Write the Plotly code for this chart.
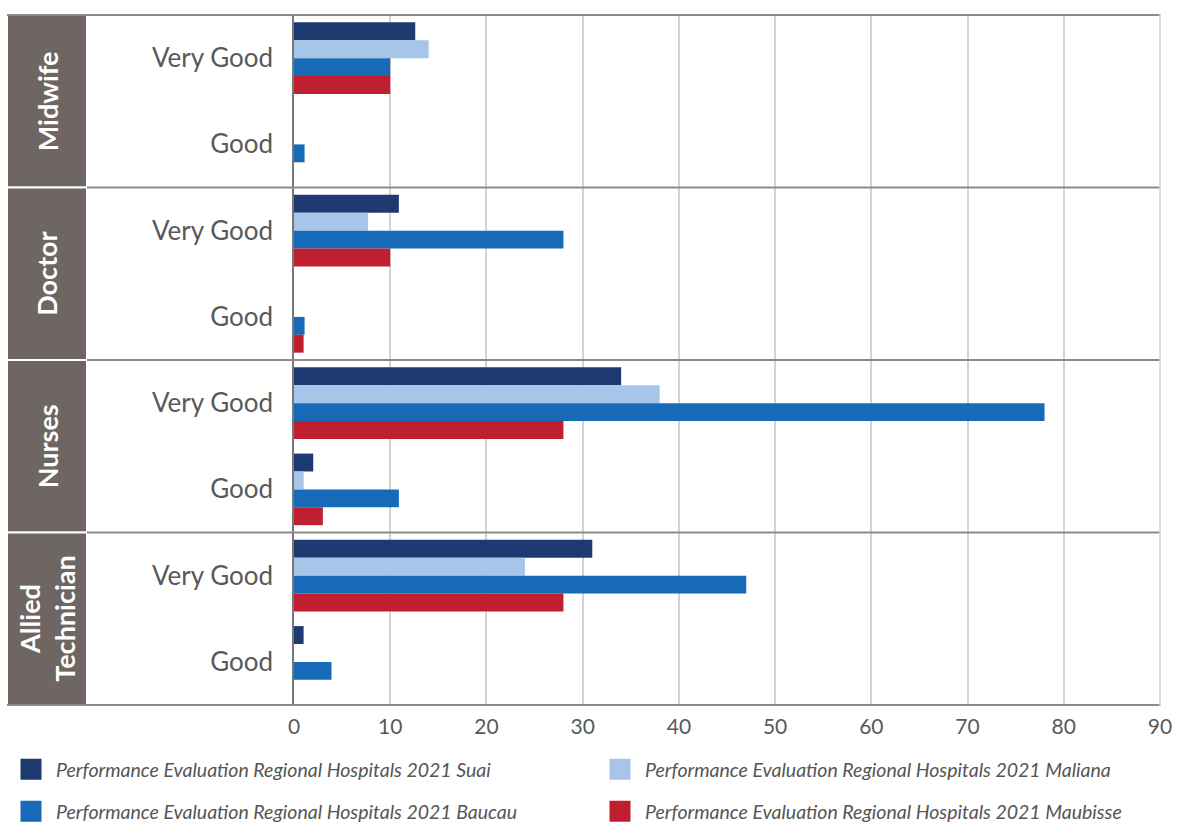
import plotly.graph_objects as go

groups = ["Midwife", "Doctor", "Nurses", "Allied<br>Technician"]
ratings = ["Very Good", "Good"]
series_names = [
    "Performance Evaluation Regional Hospitals 2021 Suai",
    "Performance Evaluation Regional Hospitals 2021 Maliana",
    "Performance Evaluation Regional Hospitals 2021 Baucau",
    "Performance Evaluation Regional Hospitals 2021 Maubisse",
]
# order: Midwife VG, Midwife Good, Doctor VG, Doctor Good, Nurses VG, Nurses Good, Allied VG, Allied Good
suai = [12.6, 0, 10.9, 0, 34, 2, 31, 1]
maliana = [14, 0, 7.7, 0, 38, 1, 24, 0]
baucau = [10, 1.1, 28, 1.1, 78, 10.9, 47, 3.9]
maubisse = [10, 0, 10, 1, 28, 3, 28, 0]
colors = ["#1f3a70", "#a7c5e8", "#176ab8", "#c01f30"]
x_ticks = [0, 10, 20, 30, 40, 50, 60, 70, 80, 90]

cat_ids = [f"{g}|{r}" for g in groups for r in ratings]
cat_text = [r for g in groups for r in ratings]

fig = go.Figure()
for name, vals, col in zip(series_names, [suai, maliana, baucau, maubisse], colors):
    fig.add_trace(go.Bar(y=cat_ids, x=vals, orientation="h", name=name,
                         marker=dict(color=col, line=dict(width=0)), showlegend=False))
legend_ids = ["legend", "legend2", "legend3", "legend4"]
for name, col, lg in zip(series_names, colors, legend_ids):
    fig.add_trace(go.Scatter(x=[None], y=[None], mode="markers", name=name, legend=lg,
                             marker=dict(symbol="square", size=16, color=col,
                                         line=dict(color=col, width=5))))

W, H = 1178, 825
ml, mr, mt, mb = 294, 18, 14, 119
pw = W - ml - mr
box_l = (7 - ml) / pw
box_r = (87 - ml) / pw

shapes = []
for i, g in enumerate(groups):
    shapes.append(dict(type="rect", xref="paper", yref="y", x0=box_l, x1=box_r,
                       y0=2 * i - 0.5, y1=2 * i + 1.5, fillcolor="#6d6662",
                       line=dict(color="white", width=2), layer="above"))
for b in [-0.5, 1.5, 3.5, 5.5, 7.5]:
    x0 = box_l if b in (-0.5, 7.5) else box_r
    shapes.append(dict(type="line", xref="paper", yref="y", x0=x0, x1=1,
                       y0=b, y1=b, line=dict(color="#8c8c8c", width=2), layer="above"))
shapes.append(dict(type="line", xref="paper", yref="paper", x0=1, x1=1, y0=0, y1=1,
                   line=dict(color="#d0d0d0", width=1.5)))

annotations = []
for i, g in enumerate(groups):
    annotations.append(dict(xref="paper", yref="y", x=(47 - ml) / pw, y=2 * i + 0.5,
                            text=g, showarrow=False, textangle=-90,
                            font=dict(family="Lato", size=27, color="white", weight="bold"),
                            xanchor="center", yanchor="middle"))

def leg(xpx, ypx):
    return dict(orientation="h", xref="container", yref="container",
                x=xpx / W, y=(H - ypx) / H, xanchor="left", yanchor="top",
                font=dict(size=19.5, color="#555555", style="italic"), itemwidth=40,
                bgcolor="rgba(0,0,0,0)")

fig.update_layout(
    width=W, height=H,
    margin=dict(l=ml, r=mr, t=mt, b=mb, autoexpand=False),
    plot_bgcolor="white", paper_bgcolor="white",
    barmode="group", bargap=0.17, bargroupgap=0,
    font=dict(family="Lato", color="#595959"),
    xaxis=dict(range=[0, 90], tickvals=x_ticks, showgrid=True, gridcolor="#d3d3d3",
               gridwidth=1.5, zeroline=False, showline=False, automargin=False,
               tickfont=dict(size=21, color="#595959"), ticklabelstandoff=6),
    yaxis=dict(categoryorder="array", categoryarray=cat_ids, autorange="reversed",
               tickvals=cat_ids, ticktext=cat_text, showgrid=False, zeroline=False,
               showline=True, linecolor="#777777", linewidth=1.5, automargin=False,
               tickfont=dict(size=26, color="#595959"), ticklabelstandoff=14),
    shapes=shapes, annotations=annotations,
    legend=leg(6, 750),
    legend2=leg(595, 750),
    legend3=leg(6, 792),
    legend4=leg(595, 792),
)
fig.write_html("out.html")
